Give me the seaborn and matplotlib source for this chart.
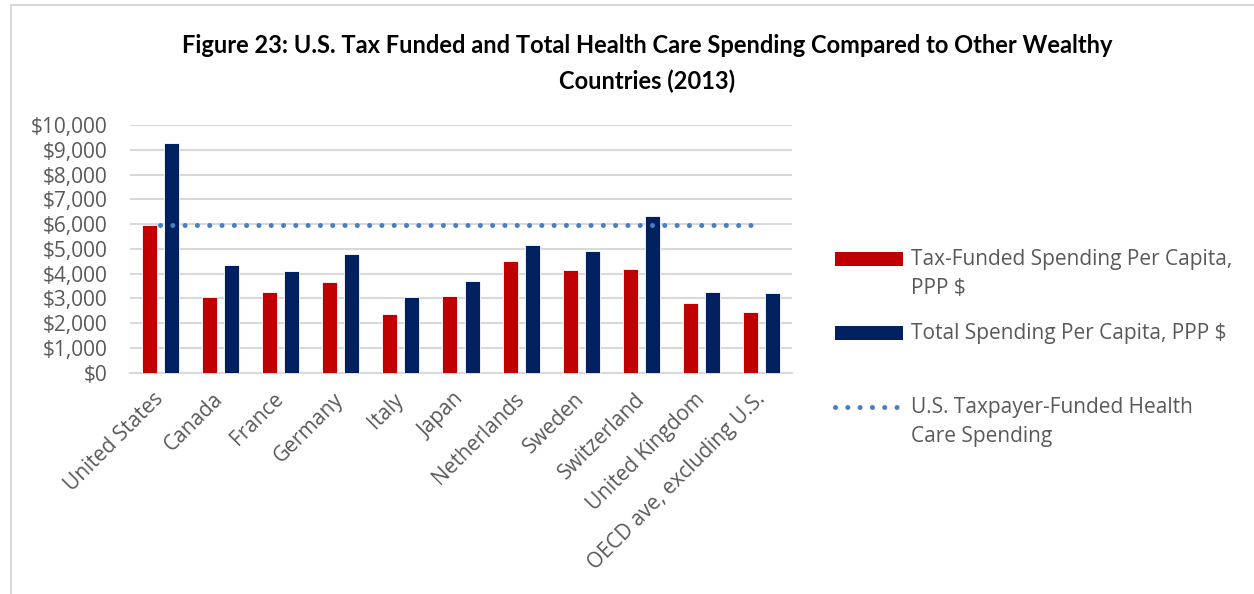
import pandas as pd
import matplotlib.pyplot as plt
import matplotlib.ticker as mticker
from matplotlib.patches import Rectangle
from matplotlib.lines import Line2D
import numpy as np
import seaborn as sns

# values (PPP $ per capita, 2013)
countries = ['United States', 'Canada', 'France', 'Germany', 'Italy', 'Japan',
             'Netherlands', 'Sweden', 'Switzerland', 'United Kingdom',
             'OECD ave, excluding U.S.']
tax_funded = [5960, 3050, 3240, 3670, 2380, 3080, 4490, 4130, 4180, 2810, 2450]
total_spending = [9260, 4350, 4120, 4810, 3050, 3710, 5140, 4910, 6320, 3240, 3230]
us_taxpayer_funded = 5960

series_names = ['Tax-Funded Spending Per Capita, PPP $', 'Total Spending Per Capita, PPP $']
line_name = 'U.S. Taxpayer-Funded Health Care Spending'
colors = {series_names[0]: '#C00000', series_names[1]: '#002060'}
dot_color = '#4A7EC0'
text_gray = '#595959'
dots = dict(linewidth=3.6, linestyle=(0, (0.01, 2.45)), dash_capstyle='round')

df = pd.DataFrame({
    'Country': countries * 2,
    'Series': [series_names[0]] * len(countries) + [series_names[1]] * len(countries),
    'Value': tax_funded + total_spending,
})

sns.set_style('white')
plt.rcParams['font.family'] = ['Open Sans', 'DejaVu Sans']

fig = plt.figure(figsize=(12.54, 5.94), dpi=100)
ax = fig.add_axes([130 / 1254, 1 - 372.7 / 594, 662 / 1254, 247.7 / 594])

sns.barplot(data=df, x='Country', y='Value', hue='Series', palette=colors, saturation=1,
            width=0.733, gap=0.32, edgecolor='white', linewidth=0.6,
            legend=False, ax=ax, zorder=3)

# dotted reference line across the category centres
ax.hlines(us_taxpayer_funded, 0, len(countries) - 1, colors=dot_color,
          linewidth=dots['linewidth'], linestyles=dots['linestyle'], capstyle='round', zorder=4)

ax.set_ylim(0, 10000)
ax.set_xlim(-0.5, len(countries) - 0.5)
ax.yaxis.set_major_locator(mticker.MultipleLocator(1000))
ax.yaxis.set_major_formatter(mticker.StrMethodFormatter('${x:,.0f}'))
ax.grid(axis='y', color='#D9D9D9', linewidth=1.5, zorder=0)
ax.set_axisbelow(True)
for s in ['left', 'right', 'top']:
    ax.spines[s].set_visible(False)
ax.spines['bottom'].set_color('#D9D9D9')
ax.spines['bottom'].set_linewidth(1.5)
ax.set_xlabel('')
ax.set_ylabel('')
ax.tick_params(axis='y', length=0, pad=16, labelsize=15, labelcolor=text_gray)
ax.tick_params(axis='x', length=0, pad=17, labelsize=15, labelcolor=text_gray)
for lbl in ax.get_xticklabels():
    lbl.set_rotation(45)
    lbl.set_ha('right')
    lbl.set_va('center')
    lbl.set_rotation_mode('anchor')

fig.text(0.516, 0.942, 'Figure 23: U.S. Tax Funded and Total Health Care Spending Compared to Other Wealthy\nCountries (2013)',
         ha='center', va='top', fontsize=17, fontweight='bold', family=['Lato', 'DejaVu Sans'],
         linespacing=1.6, color='black')

# legend, laid out like the Excel one (key lines up with the first text line)
def fy(py):
    return 1 - py / 594

key_x0, key_x1, text_x = 835 / 1254, 903 / 1254, 911 / 1254
fig.add_artist(Rectangle((key_x0, fy(265.5)), key_x1 - key_x0, 14 / 594,
                         transform=fig.transFigure, facecolor=colors[series_names[0]], edgecolor='none'))
fig.add_artist(Rectangle((key_x0, fy(339.5)), key_x1 - key_x0, 14 / 594,
                         transform=fig.transFigure, facecolor=colors[series_names[1]], edgecolor='none'))
fig.add_artist(Line2D([835 / 1254, 898 / 1254], [fy(406.5), fy(406.5)], transform=fig.transFigure,
                      color=dot_color, **dots))
legend_texts = [('Tax-Funded Spending Per Capita,\nPPP $', 258),
                (series_names[1], 332),
                ('U.S. Taxpayer-Funded Health\nCare Spending', 406)]
for txt, py in legend_texts:
    fig.text(text_x, fy(py - 9), txt, ha='left', va='top', fontsize=15,
             color=text_gray, linespacing=1.5)

# light frame around the chart
fig.add_artist(Rectangle((11 / 1254, -0.1), 1.2, 1 - 5 / 594 + 0.1, transform=fig.transFigure,
                         fill=False, edgecolor='#D9D9D9', linewidth=1.5))

fig.savefig('out.png', dpi=100)
